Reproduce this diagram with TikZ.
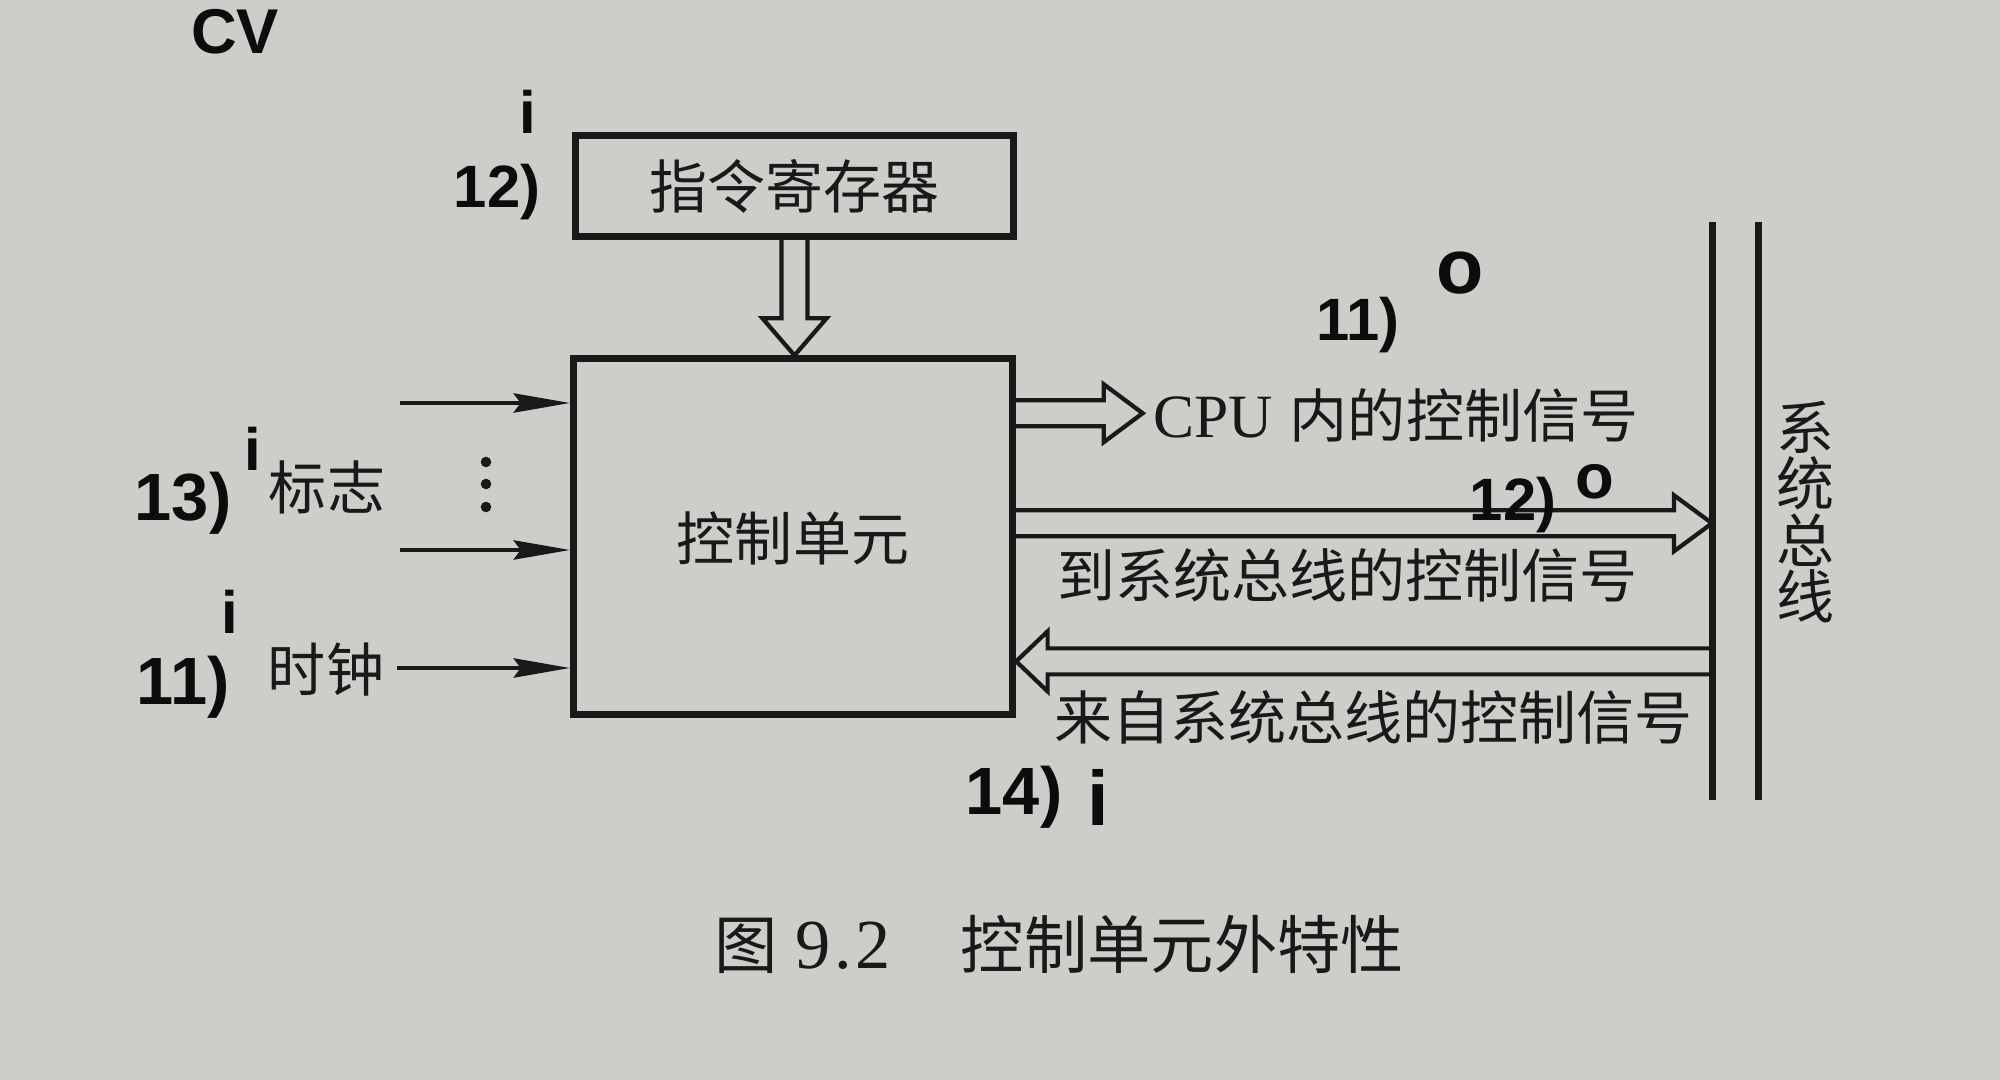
\documentclass[tikz,border=0pt]{standalone}
\usepackage{fontspec}
\setmainfont{Liberation Serif}
\newfontfamily\cjk{Noto Sans CJK SC}
\newfontfamily\handf{Liberation Sans}
\usetikzlibrary{arrows.meta,calc}
\definecolor{paper}{RGB}{205,205,202}
\definecolor{ink}{RGB}{25,25,25}
\definecolor{pen}{RGB}{12,12,12}
\begin{document}
\begin{tikzpicture}[x=0.01cm,y=-0.01cm,
  box/.style={draw=ink, line width=2pt, inner sep=0pt, text=ink, font=\cjk\fontsize{16.5pt}{16.5pt}\selectfont},
  lbl/.style={inner sep=0pt, text=ink, font=\cjk\fontsize{16.5pt}{16.5pt}\selectfont},
  hol/.style={draw=ink, line width=1.2pt, line join=miter},
  inarr/.style={draw=ink, line width=1pt, -{Stealth[length=16pt,width=5.5pt,inset=2pt]}},
  busline/.style={draw=ink, line width=2pt},
  hand/.style={inner sep=0pt, text=pen, font=\handf\bfseries\fontsize{17pt}{17pt}\selectfont}]
\fill[paper] (0,0) rectangle (2000,1080);
\useasboundingbox (0,0) rectangle (2000,1080);

% boxes
\node[box, minimum width=4.38cm, minimum height=1.01cm] (ir) at (794.5,186) {指令寄存器};
\node[box, minimum width=4.39cm, minimum height=3.55cm, text depth=-0.12cm] (cu) at (793,536.5) {控制单元};

% system bus
\coordinate (bus1t) at (1712,222);
\coordinate (bus1b) at (1712,800);
\coordinate (bus2t) at (1758,222);
\coordinate (bus2b) at (1758,800);
\draw[busline] (bus1t) -- (bus1b);
\draw[busline] (bus2t) -- (bus2b);
\node[lbl, align=center, font=\cjk\fontsize{16.5pt}{16pt}\selectfont] (sysbus) at (1805,512) {系\\统\\总\\线};

% IR -> CU hollow arrow
\draw[hol] let \p1=(ir.south), \p2=(cu.north) in
  (\x1-0.13cm,\y1) -- (\x1-0.13cm,\y2+0.37cm) -- (\x1-0.32cm,\y2+0.37cm) -- (\x1,\y2)
  -- (\x1+0.32cm,\y2+0.37cm) -- (\x1+0.13cm,\y2+0.37cm) -- (\x1+0.13cm,\y1);

% CPU internal control signals
\draw[hol] let \p1=(cu.east) in
  (\x1,-4.00cm) -- (11.03cm,-4.00cm) -- (11.03cm,-3.84cm) -- (11.42cm,-4.13cm)
  -- (11.03cm,-4.42cm) -- (11.03cm,-4.26cm) -- (\x1,-4.26cm);
\node[lbl, anchor=west] (sig1) at (1153,415) {{\rmfamily\fontsize{17.5pt}{17.5pt}\selectfont CPU} \hspace{1pt}内的控制信号};

% to system bus
\draw[hol] let \p1=(cu.east), \p2=(bus1t) in
  (\x1,-5.10cm) -- (16.73cm,-5.10cm) -- (16.73cm,-4.95cm) -- (\x2,-5.23cm)
  -- (16.73cm,-5.51cm) -- (16.73cm,-5.36cm) -- (\x1,-5.36cm);
\node[lbl, anchor=west] (sig2) at (1057,575) {到系统总线的控制信号};

% from system bus
\draw[hol] let \p1=(cu.east), \p2=(bus1t) in
  (\x2,-6.48cm) -- (10.47cm,-6.48cm) -- (10.47cm,-6.31cm) -- (\x1,-6.61cm)
  -- (10.47cm,-6.91cm) -- (10.47cm,-6.74cm) -- (\x2,-6.74cm);
\node[lbl, anchor=west] (sig3) at (1054,717) {来自系统总线的控制信号};

% inputs
\coordinate (in1) at (400,403);
\coordinate (in2) at (400,550);
\coordinate (in3) at (397,668);
\draw[inarr] (in1) -- (in1 -| cu.west);
\draw[inarr] (in2) -- (in2 -| cu.west);
\draw[inarr] (in3) -- (in3 -| cu.west);
\fill[ink] (486,462) circle[radius=1.5pt];
\fill[ink] (486,484) circle[radius=1.5pt];
\fill[ink] (486,507) circle[radius=1.5pt];
\node[lbl] (flag) at (327,487) {标志};
\node[lbl] (clock) at (326,670) {时钟};

% caption
\node[inner sep=0pt, anchor=west, text=ink, font=\fontsize{20pt}{20pt}\selectfont] (cap) at (714,944)
  {{\cjk\fontsize{18pt}{18pt}\selectfont 图} 9\hspace{1pt}.\hspace{1pt}2{\cjk\fontsize{18pt}{18pt}\selectfont 　\hspace{2pt}控制单元外特性}};

% handwritten notes
\node[hand, font=\handf\bfseries\fontsize{18pt}{18pt}\selectfont] (hcv) at (235,32) {CV};
\node[hand] (h1) at (497,192) {12)};
\node[hand] (h1i) at (528,112) {i};
\node[hand] (h2) at (1358,325) {11)};
\node[hand, font=\handf\bfseries\fontsize{22pt}{22pt}\selectfont] (h2o) at (1460,273) {o};
\node[hand] (h3) at (1513,505) {12)};
\node[hand, font=\handf\bfseries\fontsize{18pt}{18pt}\selectfont] (h3o) at (1595,482) {o};
\node[hand, font=\handf\bfseries\fontsize{19pt}{19pt}\selectfont] (h4) at (183,503) {13)};
\node[hand] (h4i) at (253,449) {i};
\node[hand, font=\handf\bfseries\fontsize{19pt}{19pt}\selectfont] (h5) at (183,687) {11)};
\node[hand] (h5i) at (230,612) {i};
\node[hand, font=\handf\bfseries\fontsize{19pt}{19pt}\selectfont] (h6) at (1014,797) {14)};
\node[hand, font=\handf\bfseries\fontsize{22pt}{22pt}\selectfont] (h6i) at (1098,797) {i};
\end{tikzpicture}
\end{document}
